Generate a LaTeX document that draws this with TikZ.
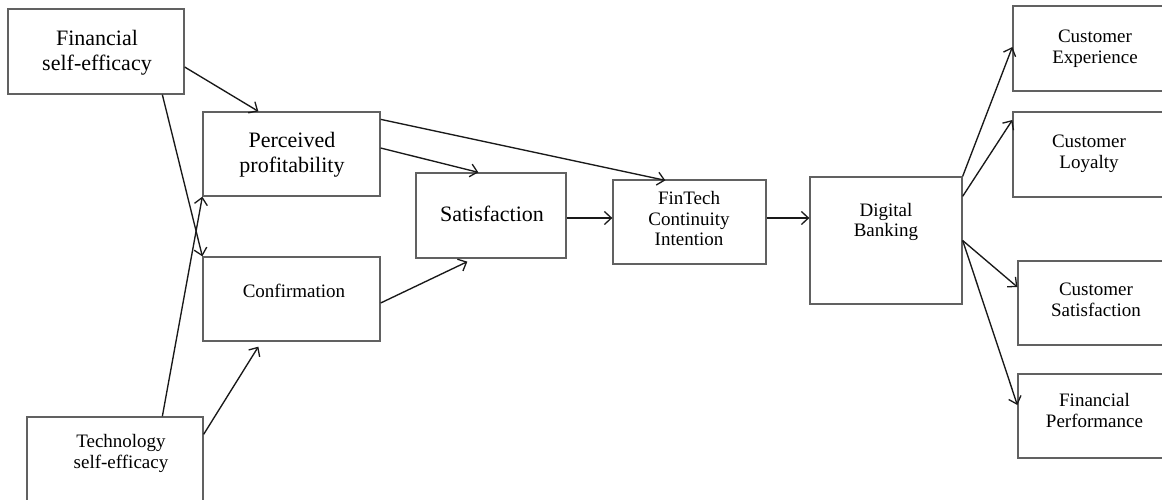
\documentclass[tikz,border=0pt]{standalone}
\usepackage{fontspec}
\setmainfont{Liberation Serif}
\usetikzlibrary{arrows.meta}
\tikzset{
  box/.style={draw=black!62, line width=1.3pt, rectangle, inner sep=0pt},
  big/.style={inner sep=0pt, align=center, font=\fontsize{22}{25}\selectfont},
  small/.style={inner sep=0pt, align=center, font=\fontsize{19}{20.8}\selectfont},
  arr/.style={draw=black!90, line width=1.35pt, -{Straight Barb[length=7pt,width=13pt,line width=1.3pt]}}
}
\begin{document}
\begin{tikzpicture}[x=1pt,y=-1pt]
\clip (0,0) rectangle (1162,499);
\fill[white] (0,0) rectangle (1162,499);
% boxes
\node[box, minimum width=176pt, minimum height=85pt] (fse) at (96,51.5) {};
\node[box, minimum width=177pt, minimum height=84pt] (pp) at (291.5,154) {};
\node[box, minimum width=177pt, minimum height=84pt] (conf) at (291.5,299) {};
\node[box, minimum width=176pt, minimum height=84pt] (tse) at (115,459) {};
\node[box, minimum width=150pt, minimum height=85pt] (sat) at (491,215.5) {};
\node[box, minimum width=153pt, minimum height=84pt] (fin) at (689.5,222) {};
\node[box, minimum width=152pt, minimum height=127pt] (db) at (886,240.5) {};
\node[box, minimum width=162pt, minimum height=85pt] (ce) at (1094,48.5) {};
\node[box, minimum width=162pt, minimum height=85pt] (cl) at (1094,154.5) {};
\node[box, minimum width=157pt, minimum height=84pt] (cs) at (1096.5,303) {};
\node[box, minimum width=157pt, minimum height=84pt] (fp) at (1096.5,416) {};
% texts
\node[big] (fseT) at (97,52.5) {Financial\\self-efficacy};
\node[big] (ppT) at (292,154.5) {Perceived\\profitability};
\node[small] (confT) at (294,290.5) {Confirmation};
\node[small] (tseT) at (121,453.5) {Technology\\self-efficacy};
\node[big] (satT) at (492,213.5) {Satisfaction};
\node[small] (finT) at (689,218.5) {FinTech\\Continuity\\Intention};
\node[small] (dbT) at (886,222) {Digital\\Banking};
\node[small] (ceT) at (1095,48.5) {Customer\\Experience};
\node[small] (clT) at (1089,153.5) {Customer\\Loyalty};
\node[small] (csT) at (1096,299.5) {Customer\\Satisfaction};
\node[small] (fpT) at (1094.5,410.5) {Financial\\Performance};
% connectors
\draw[arr] ([yshift=-15.5pt]fse.east) -- ([xshift=56pt]pp.north west);
\draw[arr] ([xshift=155pt]fse.south west) -- (conf.north west);
\draw[arr] ([xshift=136pt]tse.north west) -- (pp.south west);
\draw[arr] ([yshift=-18pt]tse.north east) -- ([xshift=56pt,yshift=-5pt]conf.south west);
\draw[arr] ([yshift=6pt]pp.east) -- ([xshift=63pt]sat.north west);
\draw[arr] ([yshift=-8pt]pp.north east) -- ([xshift=53pt,yshift=-1pt]fin.north west);
\draw[arr] ([yshift=-4pt]conf.east) -- ([xshift=52pt,yshift=-3pt]sat.south west);
\draw[arr] ([yshift=-2.5pt]sat.east) -- ([yshift=4pt]fin.west);
\draw[arr] ([yshift=4pt]fin.east) -- ([yshift=22.5pt]db.west);
\draw[arr] (db.north east) -- ([yshift=1.5pt]ce.west);
\draw[arr] ([yshift=-20pt]db.north east) -- ([yshift=34.5pt]cl.west);
\draw[arr] (db.east) -- ([yshift=16pt]cs.west);
\draw[arr] (db.east) -- ([yshift=11pt]fp.west);
\end{tikzpicture}
\end{document}
